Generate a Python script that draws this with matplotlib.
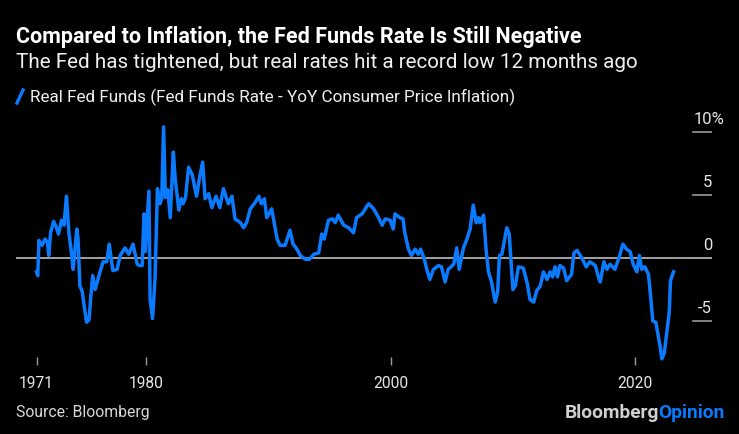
import matplotlib.pyplot as plt
from matplotlib.transforms import blended_transform_factory
from matplotlib.lines import Line2D

plt.rcParams['font.family'] = ['Roboto', 'DejaVu Sans']

# real fed funds rate (fed funds minus YoY CPI)
years = [1971.0, 1971.1, 1971.2, 1971.45, 1971.7, 1971.9, 1972.0, 1972.15, 1972.4, 1972.6,
         1972.8, 1973.05, 1973.25, 1973.45, 1973.65, 1973.85, 1974.0, 1974.3, 1974.4, 1974.55,
         1974.75, 1974.9, 1975.1, 1975.3, 1975.45, 1975.6, 1975.8, 1976.0, 1976.2, 1976.45,
         1976.75, 1976.95, 1977.25, 1977.6, 1977.85, 1978.25, 1978.55, 1978.9, 1979.05, 1979.25,
         1979.45, 1979.65, 1979.8, 1979.9, 1980.2, 1980.3, 1980.5, 1980.7, 1980.9, 1981.1,
         1981.25, 1981.4, 1981.55, 1981.75, 1981.95, 1982.2, 1982.35, 1982.65, 1982.85, 1983.0,
         1983.2, 1983.45, 1983.75, 1984.1, 1984.35, 1984.6, 1984.8, 1985.1, 1985.35, 1985.7,
         1986.0, 1986.3, 1986.7, 1987.0, 1987.25, 1987.7, 1987.95, 1988.2, 1988.5, 1988.9,
         1989.2, 1989.4, 1989.65, 1989.85, 1990.25, 1990.7, 1990.95, 1991.35, 1991.75, 1992.0,
         1992.25, 1992.6, 1993.0, 1993.35, 1993.7, 1994.1, 1994.35, 1994.55, 1994.9, 1995.25,
         1995.45, 1995.7, 1996.15, 1996.55, 1996.95, 1997.2, 1997.65, 1998.05, 1998.2, 1998.6,
         1999.0, 1999.3, 1999.55, 1999.95, 2000.2, 2000.35, 2000.75, 2001.0, 2001.15, 2001.45,
         2001.7, 2002.0, 2002.25, 2002.45, 2002.75, 2002.95, 2003.2, 2003.5, 2003.9, 2004.15,
         2004.45, 2004.7, 2005.15, 2005.4, 2005.6, 2005.95, 2006.2, 2006.5, 2006.75, 2007.0,
         2007.2, 2007.3, 2007.6, 2007.8, 2008.0, 2008.25, 2008.55, 2008.75, 2008.9, 2009.1,
         2009.5, 2009.7, 2010.0, 2010.2, 2010.45, 2010.85, 2011.15, 2011.4, 2011.7, 2011.95,
         2012.25, 2012.5, 2012.8, 2013.05, 2013.25, 2013.45, 2013.65, 2013.85, 2014.15, 2014.4,
         2014.8, 2015.0, 2015.25, 2015.65, 2016.0, 2016.3, 2016.75, 2017.0, 2017.15, 2017.45,
         2017.7, 2017.95, 2018.35, 2018.7, 2019.0, 2019.3, 2019.6, 2019.85, 2020.15, 2020.35,
         2020.55, 2020.8, 2021.1, 2021.3, 2021.45, 2021.7, 2022.05, 2022.2, 2022.4, 2022.6,
         2022.8, 2022.9, 2023.15]
real_rate = [-1.1, -1.4, 1.4, 1.0, 1.5, 1.2, 0.2, 2.0, 2.9, 2.5,
             1.9, 3.0, 2.6, 4.9, 2.0, 0.5, -0.9, 2.3, 1.5, -2.2,
             -2.7, -3.8, -5.1, -4.9, -3.0, -1.4, -2.5, -1.8, -1.1, -0.3,
             -0.3, 1.1, -1.0, -0.9, 0.2, 0.8, 0.3, 1.1, 0.4, -0.5,
             -0.6, -0.6, 3.5, 0.5, 5.3, -3.3, -4.8, -1.7, 5.5, 4.3,
             4.7, 10.4, 4.8, 5.4, 3.2, 8.4, 6.3, 3.8, 4.7, 4.3,
             4.8, 7.2, 6.6, 4.9, 6.4, 7.6, 4.7, 5.1, 4.0, 4.9,
             4.0, 5.5, 4.3, 4.9, 3.1, 2.8, 2.4, 2.8, 3.9, 4.4,
             4.9, 4.3, 4.7, 3.2, 3.9, 1.5, 1.0, 1.0, 2.2, 1.1,
             0.8, 0.2, -0.1, -0.1, 0.3, 0.4, 1.9, 1.5, 3.0, 3.1,
             2.8, 3.4, 2.6, 2.4, 2.0, 3.2, 3.5, 4.1, 4.3, 3.9,
             3.2, 2.6, 3.1, 3.0, 2.3, 3.5, 3.2, 3.1, 2.0, 0.7,
             0.2, 0.7, 0.3, 0.7, -0.1, -0.9, -1.7, -0.9, -0.6, -0.7,
             -1.9, -0.9, -0.5, 0.8, -0.9, 0.8, 1.4, 2.3, 4.2, 2.8,
             3.2, 2.8, 3.4, 0.7, -1.1, -1.9, -3.5, -2.7, 0.2, 0.3,
             2.4, 1.9, -2.5, -2.2, -0.7, -0.8, -1.9, -3.3, -3.5, -2.6,
             -2.2, -1.1, -1.7, -1.1, -1.5, -0.7, -1.5, -0.6, -0.8, -1.8,
             -1.3, 0.4, 0.6, 0.0, -0.7, -0.3, -0.6, -1.5, -1.9, -0.3,
             -0.9, -0.5, -0.9, 0.05, 1.1, 0.7, 0.5, -0.5, -1.1, 0.2,
             -0.9, -0.7, -1.3, -3.3, -5.0, -5.1, -7.0, -8.0, -7.5, -5.9,
             -4.3, -1.8, -1.1]

x_ticks = [1971, 1980, 2000, 2020]
y_ticks = [10, 5, 0, -5]
y_labels = ['10', '5', '0', '-5']

W, H = 739, 435
fig = plt.figure(figsize=(W / 100, H / 100), dpi=100, facecolor='black')

# axes placed in pixel terms: left 16, right 712, top 125, bottom 366
ax = fig.add_axes([16 / W, 1 - 366 / H, (712 - 16) / W, (366 - 125) / H])
ax.set_facecolor('black')
ax.set_xlim(1969.32, 2026.30)
ax.set_ylim(-8.49, 10.63)
for s in ax.spines.values():
    s.set_visible(False)

ax.axhline(0, color='#bdbdbd', lw=1.2, zorder=1)
ax.plot(years, real_rate, color='#0a7bff', lw=2.5, solid_joinstyle='round', zorder=3)

# y ticks: short dashes at right edge, labels above them
trans = blended_transform_factory(ax.transAxes, ax.transData)
labels = []
for v, lab in zip(y_ticks, y_labels):
    if v != 0:
        ax.axhline(v, xmin=0.973, xmax=1.0, color='#9a9a9a', lw=1.2, zorder=1)
    labels.append(ax.text(1.0, v + 0.5, lab, transform=trans, ha='right', va='bottom',
                          color='#e6e6e6', fontsize=12))
ax.set_yticks([])

ax.set_xticks(x_ticks)
ax.set_xticklabels([str(t) for t in x_ticks])
ax.tick_params(axis='x', direction='in', length=5.5, width=1, color='#9a9a9a',
               labelcolor='#e6e6e6', labelsize=11.2, pad=7)

# header
fig.text(16 / W, 1 - 37 / H, 'Compared to Inflation, the Fed Funds Rate Is Still Negative',
         color='white', fontsize=15.5, fontweight='bold', va='center', ha='left')
fig.text(16 / W, 1 - 62 / H, 'The Fed has tightened, but real rates hit a record low 12 months ago',
         color='#f0f0f0', fontsize=14.9, va='center', ha='left')

# legend
fig.add_artist(Line2D([17 / W, 23 / W], [1 - 104 / H, 1 - 91 / H], color='#0a7bff', lw=2.4))
fig.text(30 / W, 1 - 97 / H, 'Real Fed Funds (Fed Funds Rate - YoY Consumer Price Inflation)',
         color='#f0f0f0', fontsize=12.3, va='center', ha='left')

# footer
fig.text(16 / W, 1 - 413 / H, 'Source: Bloomberg', color='#d9d9d9', fontsize=11.3,
         va='center', ha='left')
op = fig.text(725 / W, 1 - 413 / H, 'Opinion', color='#0a7bff', fontsize=13.8,
              fontweight='bold', va='center', ha='right')
fig.canvas.draw()
bb = op.get_window_extent()
fig.text(bb.x0 / W, 1 - 413 / H, 'Bloomberg', color='#d0d0d0', fontsize=13.8,
         fontweight='bold', va='center', ha='right')

# top label gets the % sign hanging past the tick edge
top = labels[0]
tb = top.get_window_extent()
top.set_visible(False)
fig.text(tb.x0 / W, tb.y0 / H, y_labels[0] + '%', color='#e6e6e6', fontsize=12,
         ha='left', va='bottom')

fig.savefig('out.png', dpi=100, facecolor='black')
